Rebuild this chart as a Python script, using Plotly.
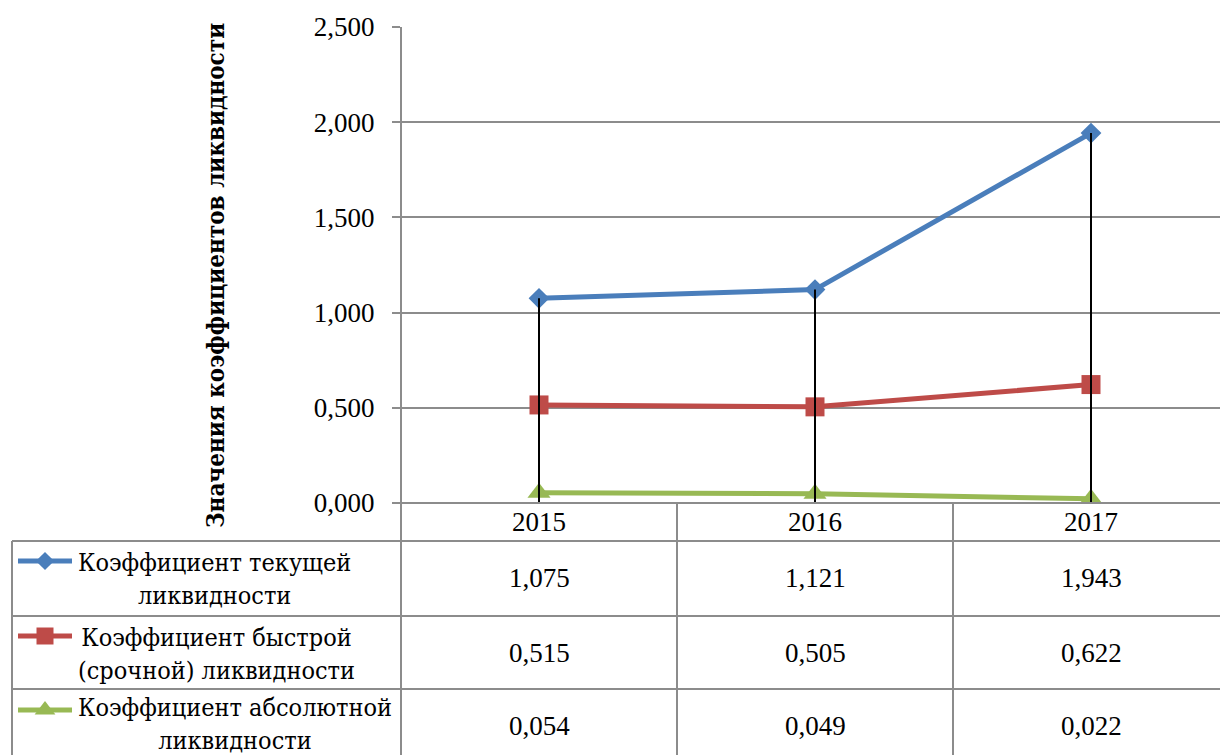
import plotly.graph_objects as go

# Liquidity ratios by year
years = ["2015", "2016", "2017"]
current_ratio = [1.075, 1.121, 1.943]
quick_ratio = [0.515, 0.505, 0.622]
absolute_ratio = [0.054, 0.049, 0.022]

series_labels = [
    "Коэффициент текущей<br>ликвидности",
    "Коэффициент быстрой<br>(срочной) ликвидности",
    "Коэффициент абсолютной<br>ликвидности",
]
y_title = "Значения коэффициентов ликвидности"
y_ticks = [0.0, 0.5, 1.0, 1.5, 2.0, 2.5]

series = [current_ratio, quick_ratio, absolute_ratio]
colors = ["#4A7EBB", "#BE4B48", "#98B954"]
symbols = ["diamond", "square", "triangle-up"]
msizes = [16, 19, 20]

W, H = 1220, 755
FONT = "Liberation Serif, DejaVu Serif"
CYR_FONT = "DejaVu Serif Condensed, DejaVu Serif"
GRID = "#8c8c8c"


def px(x):
    return x / W


def py(y):
    return 1 - y / H


def fmt(v):
    return f"{v:.3f}".replace(".", ",")


plot_left, plot_top, plot_bottom = 401, 27, 503
cat_w = 276
x_hi = -0.5 + (W - plot_left) / cat_w

fig = go.Figure()

# data lines with markers
for vals, col, sym, ms in zip(series, colors, symbols, msizes):
    fig.add_trace(go.Scatter(
        x=list(range(len(years))), y=vals, mode="lines+markers",
        line=dict(color=col, width=5),
        marker=dict(symbol=sym, size=ms, color=col),
        cliponaxis=False, hoverinfo="skip",
    ))

# drop lines from the highest point down to the axis
dx, dy = [], []
for i in range(len(years)):
    top = max(s[i] for s in series)
    dx += [i, i, None]
    dy += [top, 0, None]
fig.add_trace(go.Scatter(x=dx, y=dy, mode="lines",
                         line=dict(color="black", width=2),
                         hoverinfo="skip", cliponaxis=False))

# legend keys in the data table (pixel overlay axes)
row_tops = [541, 616, 689, 763]
key_y = [561, 636, 710]
for ky, col, sym, ms in zip(key_y, colors, symbols, msizes):
    fig.add_trace(go.Scatter(
        x=[18, 72], y=[ky, ky], mode="lines", line=dict(color=col, width=5),
        xaxis="x2", yaxis="y2", hoverinfo="skip"))
    fig.add_trace(go.Scatter(
        x=[45], y=[ky], mode="markers",
        marker=dict(symbol=sym, size=ms - 2, color=col),
        xaxis="x2", yaxis="y2", hoverinfo="skip"))

shapes = []
line_style = dict(color=GRID, width=2)
# table horizontal rules
shapes.append(dict(type="line", xref="paper", yref="paper",
                   x0=px(plot_left), x1=1, y0=py(plot_bottom), y1=py(plot_bottom),
                   line=line_style))
for ry in row_tops[:3]:
    shapes.append(dict(type="line", xref="paper", yref="paper",
                       x0=px(12), x1=1, y0=py(ry), y1=py(ry), line=line_style))
# table verticals
shapes.append(dict(type="line", xref="paper", yref="paper",
                   x0=px(12), x1=px(12), y0=py(row_tops[0]), y1=0, line=line_style))
shapes.append(dict(type="line", xref="paper", yref="paper",
                   x0=px(plot_left), x1=px(plot_left), y0=py(plot_top), y1=0,
                   line=line_style))
for b in [0.5, 1.5]:
    shapes.append(dict(type="line", xref="x", yref="paper",
                       x0=b, x1=b, y0=py(plot_bottom), y1=0, line=line_style))

annotations = []
txt_font = dict(family=FONT, size=27, color="black")
for i, yr in enumerate(years):
    annotations.append(dict(x=i, xref="x", y=py(522), yref="paper", text=yr,
                            showarrow=False, font=txt_font,
                            xanchor="center", yanchor="middle"))
value_rows = [578, 653, 726]
for vals, ry in zip(series, value_rows):
    for i, v in enumerate(vals):
        annotations.append(dict(x=i, xref="x", y=py(ry), yref="paper",
                                text=fmt(v), showarrow=False, font=txt_font,
                                xanchor="center", yanchor="middle"))
label_rows = [579, 654, 724]
for lab, ry in zip(series_labels, label_rows):
    annotations.append(dict(x=px(76), xref="paper", y=py(ry), yref="paper",
                            text=lab, showarrow=False,
                            font=dict(family=CYR_FONT, size=25, color="black"),
                            align="center", xanchor="left", yanchor="middle"))
annotations.append(dict(x=px(215), xref="paper", y=py(276), yref="paper",
                        text=f"<b>{y_title}</b>", textangle=-90, showarrow=False,
                        font=dict(family=CYR_FONT, size=24, color="black"),
                        xanchor="center", yanchor="middle"))

fig.update_layout(
    width=W, height=H,
    margin=dict(l=0, r=0, t=0, b=0, autoexpand=False),
    paper_bgcolor="white", plot_bgcolor="rgba(0,0,0,0)",
    separators=", ",
    showlegend=False,
    font=dict(family=FONT, size=27, color="black"),
    xaxis=dict(domain=[px(plot_left), 1], range=[-0.5, x_hi],
               showgrid=False, zeroline=False, showticklabels=False,
               showline=False, ticks="", fixedrange=True, automargin=False),
    yaxis=dict(domain=[py(plot_bottom), py(plot_top)], range=[0, 2.5],
               tickvals=y_ticks, tickformat=".3f", automargin=False,
               showgrid=True, gridcolor=GRID, gridwidth=2,
               zeroline=False, showline=False,
               ticks="outside", ticklen=8, tickwidth=2, tickcolor=GRID,
               ticklabelstandoff=12,
               tickfont=dict(family=FONT, size=27, color="black")),
    xaxis2=dict(domain=[0, 1], range=[0, W], visible=False, anchor="y2",
                automargin=False),
    yaxis2=dict(domain=[0, 1], range=[H, 0], visible=False, anchor="x2",
                automargin=False),
    shapes=shapes,
    annotations=annotations,
)

fig.write_html("out.html")
